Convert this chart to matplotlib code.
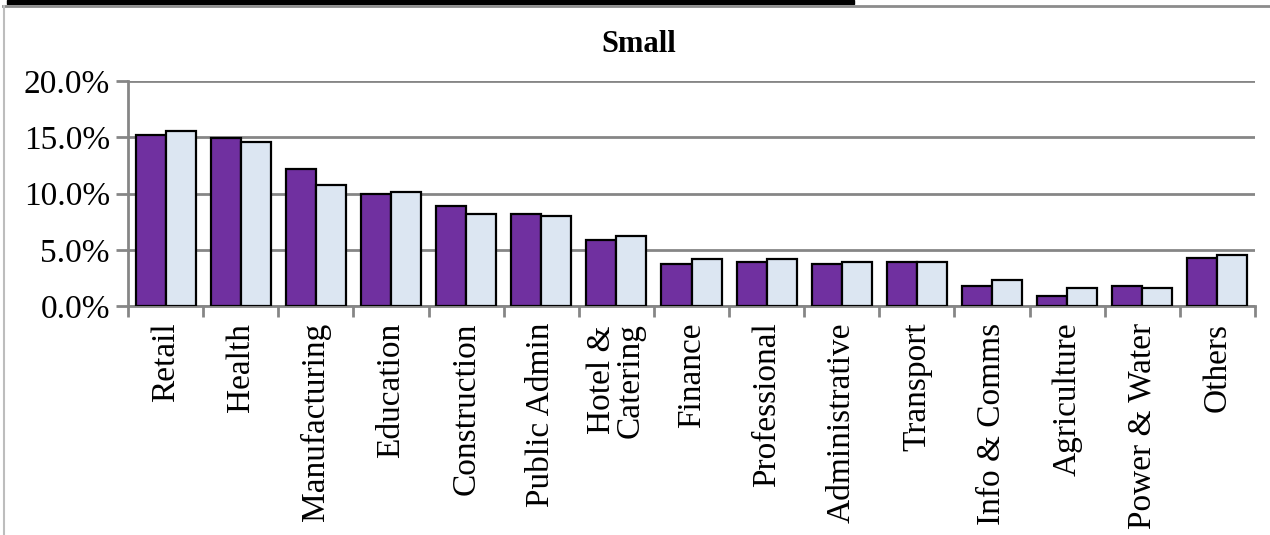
import matplotlib
matplotlib.use("Agg")
import matplotlib.pyplot as plt
import numpy as np
from matplotlib.ticker import FuncFormatter
from matplotlib.lines import Line2D
from matplotlib.patches import Rectangle

categories = ["Retail", "Health", "Manufacturing", "Education", "Construction",
              "Public Admin", "Hotel &\nCatering", "Finance", "Professional",
              "Administrative", "Transport", "Info & Comms", "Agriculture",
              "Power & Water", "Others"]
series_a = [15.2, 14.9, 12.2, 10.0, 8.9, 8.2, 5.9, 3.7, 3.9, 3.7, 3.95, 1.75, 0.85, 1.8, 4.3]
series_b = [15.6, 14.6, 10.8, 10.1, 8.2, 8.0, 6.2, 4.2, 4.2, 3.9, 3.95, 2.3, 1.6, 1.6, 4.5]
y_ticks = [0, 5, 10, 15, 20]

plt.rcParams['font.family'] = ['Liberation Serif', 'DejaVu Serif']

W, H = 1270, 535
fig = plt.figure(figsize=(W / 100, H / 100), dpi=100)
ax = fig.add_axes([128 / W, 1 - 306 / H, (1255 - 128) / W, (306 - 81) / H])

x = np.arange(len(categories))
bw = 0.4
ax.bar(x - bw / 2, series_a, width=bw, color="#7030A0", edgecolor="black", linewidth=1.6, zorder=3)
ax.bar(x + bw / 2, series_b, width=bw, color="#DCE6F2", edgecolor="black", linewidth=1.6, zorder=3)

ax.set_xlim(-0.5, len(categories) - 0.5)
ax.set_ylim(0, 20)
ax.set_yticks(y_ticks)
ax.yaxis.set_major_formatter(FuncFormatter(lambda v, p: f"{v:.1f}%"))
ax.grid(axis="y", color="#868686", linewidth=2, zorder=0)
for s in ["top", "right"]:
    ax.spines[s].set_visible(False)
for s in ["left", "bottom"]:
    ax.spines[s].set_color("#868686")
    ax.spines[s].set_linewidth(2)

ax.set_xticks(np.arange(len(categories) + 1) - 0.5)
ax.set_xticklabels([])
ax.tick_params(axis="x", length=8, width=2, color="#868686", direction="out")
ax.tick_params(axis="y", length=9, width=2, color="#868686", direction="out", labelsize=24, pad=4)
ax.set_xticks(x, minor=True)
ax.set_xticklabels(categories, minor=True, rotation=90, fontsize=24, ha="center", va="top",
                   linespacing=0.92)
ax.tick_params(axis="x", which="minor", length=0, pad=12)

fig.text(639 / W, 1 - 45 / H, "Small", fontsize=22, fontweight="bold", ha="center", va="center")

# frame decorations
fig.add_artist(Line2D([3 / W, 1], [1 - 6 / H, 1 - 6 / H], color="#8c8c8c", linewidth=2))
fig.add_artist(Line2D([4 / W, 4 / W], [0, 1 - 6 / H], color="#bdbdbd", linewidth=1.5))
fig.add_artist(Rectangle((7 / W, 1 - 4 / H), (854 - 7) / W, 4 / H, color="black",
                         transform=fig.transFigure))

fig.savefig("out.png", dpi=100)
